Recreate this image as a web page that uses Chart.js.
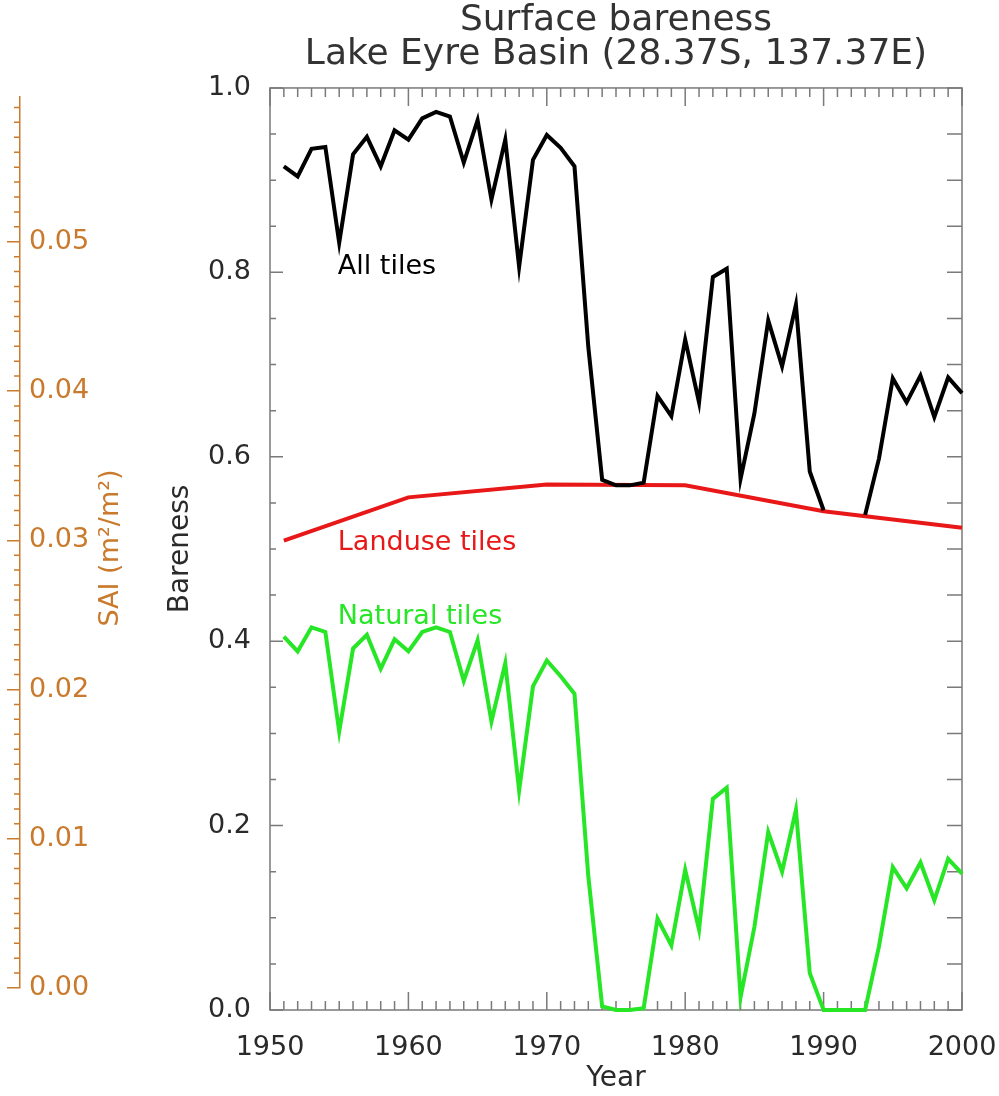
<!DOCTYPE html>
<html>
<head>
<meta charset="utf-8">
<script src="https://cdn.jsdelivr.net/npm/chart.js@4.4.0/dist/chart.umd.min.js"></script>
<style>
  html, body { margin: 0; padding: 0; background: #fff; }
  #wrap { position: relative; width: 999px; height: 1096px; }
  #main { position: absolute; left: 0; top: 0; }
  #sai { position: absolute; left: 0; top: 0; pointer-events: none; }
</style>
</head>
<body>
<div id="wrap">
  <canvas id="main" width="999" height="1096"></canvas>
  <canvas id="sai" width="150" height="1096"></canvas>
</div>
<script>
// values
const years = [1951, 1952, 1953, 1954, 1955, 1956, 1957, 1958, 1959, 1960,
               1961, 1962, 1963, 1964, 1965, 1966, 1967, 1968, 1969, 1970,
               1971, 1972, 1973, 1974, 1975, 1976, 1977, 1978, 1979, 1980,
               1981, 1982, 1983, 1984, 1985, 1986, 1987, 1988, 1989, 1990,
               1991, 1992, 1993, 1994, 1995, 1996, 1997, 1998, 1999, 2000];
const allTiles = [0.915, 0.904, 0.934, 0.936, 0.832, 0.928, 0.947, 0.915, 0.954, 0.944,
                  0.967, 0.974, 0.969, 0.919, 0.965, 0.879, 0.944, 0.806, 0.922, 0.949,
                  0.935, 0.915, 0.719, 0.575, 0.569, 0.569, 0.572, 0.666, 0.644, 0.727,
                  0.659, 0.795, 0.804, 0.576, 0.647, 0.748, 0.698, 0.765, 0.584, 0.542,
                  null, null, 0.537, 0.598, 0.685, 0.659, 0.688, 0.643, 0.686, 0.669];
const naturalTiles = [0.405, 0.389, 0.415, 0.410, 0.302, 0.392, 0.407, 0.370, 0.402, 0.389,
                      0.410, 0.415, 0.410, 0.357, 0.401, 0.313, 0.376, 0.238, 0.351, 0.379,
                      0.362, 0.343, 0.145, 0.004, 0.000, 0.000, 0.002, 0.099, 0.070, 0.152,
                      0.087, 0.229, 0.241, 0.014, 0.090, 0.193, 0.150, 0.217, 0.040, 0.000,
                      0.000, 0.000, 0.000, 0.069, 0.155, 0.132, 0.160, 0.119, 0.164, 0.148];
const landuseYears = [1951, 1960, 1970, 1980, 1990, 2000];
const landuseTiles = [0.509, 0.556, 0.570, 0.569, 0.541, 0.523];

const yearTicks = [1950, 1960, 1970, 1980, 1990, 2000];
const barenessTicks = [0, 0.2, 0.4, 0.6, 0.8, 1.0];
const saiTicks = [0, 0.01, 0.02, 0.03, 0.04, 0.05];

const FONT = 'DejaVu Sans';
const TEXT = '#2a2a2a';
const ORANGE = '#c97a2c';
const RED = '#e81818';
const GREEN = '#26e626';

function pts(xs, ys) {
    return xs.map(function(x, i) { return {x: x, y: ys[i]}; });
}

// frame with inward ticks on all four sides
const framePlugin = {
    id: 'frame',
    beforeDatasetsDraw(chart) {
        const {ctx, chartArea: a, scales: {x, y}} = chart;
        ctx.save();
        ctx.strokeStyle = '#7a7a7a';
        ctx.lineWidth = 1.5;
        ctx.strokeRect(a.left, a.top, a.right - a.left, a.bottom - a.top);
        ctx.beginPath();
        for (let yr = 1950; yr <= 2000; yr++) {
            const px = x.getPixelForValue(yr);
            const len = yr % 10 === 0 ? 18 : 9;
            ctx.moveTo(px, a.bottom); ctx.lineTo(px, a.bottom - len);
            ctx.moveTo(px, a.top); ctx.lineTo(px, a.top + len);
        }
        for (let i = 0; i <= 20; i++) {
            const py = y.getPixelForValue(i * 0.05);
            const len = i % 4 === 0 ? 13 : 6;
            ctx.moveTo(a.left, py); ctx.lineTo(a.left + len, py);
            ctx.moveTo(a.right, py); ctx.lineTo(a.right - 15, py);
        }
        ctx.stroke();
        ctx.restore();
    },
    afterDatasetsDraw(chart) {
        const {ctx, scales: {x, y}} = chart;
        ctx.save();
        ctx.font = '27px "' + FONT + '"';
        ctx.textAlign = 'left';
        ctx.textBaseline = 'middle';
        ctx.fillStyle = '#000';
        ctx.fillText('All tiles', x.getPixelForValue(1954.9), y.getPixelForValue(0.806));
        ctx.fillStyle = RED;
        ctx.fillText('Landuse tiles', x.getPixelForValue(1954.9), y.getPixelForValue(0.506));
        ctx.fillStyle = GREEN;
        ctx.fillText('Natural tiles', x.getPixelForValue(1954.9), y.getPixelForValue(0.426));
        ctx.restore();
    }
};

new Chart(document.getElementById('main'), {
    type: 'line',
    data: {
        datasets: [
            {
                label: 'All tiles',
                data: pts(years, allTiles),
                borderColor: '#000',
                borderWidth: 4,
                spanGaps: false
            },
            {
                label: 'Landuse tiles',
                data: pts(landuseYears, landuseTiles),
                borderColor: RED,
                borderWidth: 4
            },
            {
                label: 'Natural tiles',
                data: pts(years, naturalTiles),
                borderColor: GREEN,
                borderWidth: 4
            }
        ]
    },
    options: {
        responsive: false,
        animation: false,
        clip: false,
        elements: { point: { radius: 0 }, line: { tension: 0, fill: false } },
        layout: { padding: { left: 150, right: 37, top: 0, bottom: 0 } },
        plugins: {
            legend: { display: false },
            tooltip: { enabled: false },
            title: {
                display: true,
                fullSize: false,
                text: ['Surface bareness', 'Lake Eyre Basin (28.37S, 137.37E)'],
                font: { family: FONT, size: 36, weight: 'normal', lineHeight: 0.93 },
                color: '#333',
                padding: { top: 4, bottom: 17 }
            }
        },
        scales: {
            x: {
                type: 'linear',
                min: 1950,
                max: 2000,
                afterBuildTicks: function(s) { s.ticks = yearTicks.map(function(v) { return {value: v}; }); },
                afterFit: function(s) { s.height = 86; s.paddingLeft = 0; s.paddingRight = 0; },
                ticks: {
                    callback: function(v) { return String(v); },
                    font: { family: FONT, size: 27 },
                    color: TEXT,
                    padding: 14,
                    maxRotation: 0,
                    autoSkip: false
                },
                grid: { display: false },
                border: { display: false },
                title: {
                    display: true,
                    text: 'Year',
                    font: { family: FONT, size: 28 },
                    color: TEXT,
                    padding: { top: 0, bottom: 0 }
                }
            },
            y: {
                min: 0,
                max: 1,
                afterBuildTicks: function(s) { s.ticks = barenessTicks.map(function(v) { return {value: v}; }); },
                afterFit: function(s) { s.width = 120; },
                ticks: {
                    callback: function(v) { return v.toFixed(1); },
                    font: { family: FONT, size: 27 },
                    color: TEXT,
                    padding: 11
                },
                grid: { display: false },
                border: { display: false },
                title: {
                    display: true,
                    text: 'Bareness',
                    font: { family: FONT, size: 28 },
                    color: TEXT,
                    padding: { top: 14, bottom: 0 }
                }
            }
        }
    },
    plugins: [framePlugin]
});

// SAI axis on the far left
const saiPlugin = {
    id: 'saiExtras',
    afterDraw(chart) {
        const {ctx, chartArea: a, scales: {y}} = chart;
        ctx.save();
        ctx.strokeStyle = ORANGE;
        ctx.lineWidth = 1.5;
        ctx.beginPath();
        for (let i = 0; i <= 59; i++) {
            if (i % 10 === 0) continue;
            const v = i / 1000;
            if (v > y.max) break;
            const py = y.getPixelForValue(v);
            ctx.moveTo(a.left, py); ctx.lineTo(a.left - 6, py);
        }
        ctx.stroke();
        ctx.translate(111, 548);
        ctx.rotate(-Math.PI / 2);
        ctx.font = '27px "' + FONT + '"';
        ctx.fillStyle = ORANGE;
        ctx.textAlign = 'center';
        ctx.textBaseline = 'middle';
        ctx.fillText('SAI (m\u00b2/m\u00b2)', 0, 0);
        ctx.restore();
    }
};

new Chart(document.getElementById('sai'), {
    type: 'line',
    data: { datasets: [] },
    options: {
        responsive: false,
        animation: false,
        layout: { padding: { left: 0, right: 0, top: 97, bottom: 108 } },
        plugins: { legend: { display: false }, tooltip: { enabled: false }, title: { display: false } },
        scales: {
            x: { display: false },
            y: {
                position: 'left',
                min: 0,
                max: 0.0597,
                afterBuildTicks: function(s) { s.ticks = saiTicks.map(function(v) { return {value: v}; }); },
                afterFit: function(s) { s.width = 20; },
                ticks: {
                    mirror: true,
                    padding: 9,
                    color: ORANGE,
                    font: { family: FONT, size: 27 },
                    callback: function(v) { return v.toFixed(2); }
                },
                grid: { drawOnChartArea: false, drawTicks: true, tickLength: 13, color: ORANGE, tickColor: ORANGE, lineWidth: 1.5 },
                border: { display: true, color: ORANGE, width: 1.5 }
            }
        }
    },
    plugins: [saiPlugin]
});
</script>
</body>
</html>
